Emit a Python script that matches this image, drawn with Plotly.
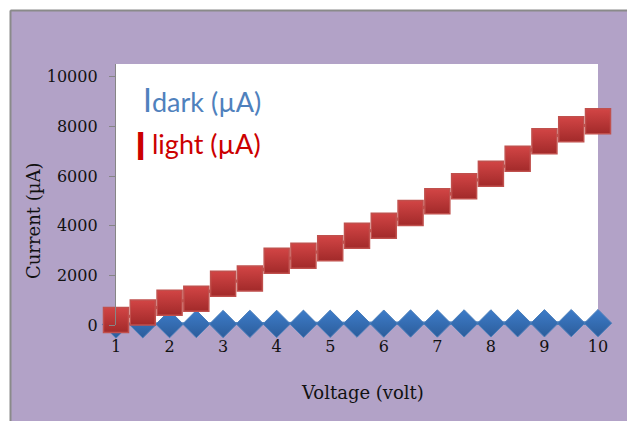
import plotly.graph_objects as go

voltage = [1, 1.5, 2, 2.5, 3, 3.5, 4, 4.5, 5, 5.5, 6, 6.5, 7, 7.5, 8, 8.5, 9, 9.5, 10]
i_dark = [20, 30, 35, 40, 40, 45, 45, 50, 50, 55, 55, 60, 60, 65, 65, 70, 70, 75, 75]
i_light = [200, 500, 900, 1060, 1660, 1870, 2590, 2790, 3090, 3590, 4000, 4510,
           4980, 5590, 6090, 6690, 7400, 7880, 8200]
x_ticks = [1, 2, 3, 4, 5, 6, 7, 8, 9, 10]
y_ticks = [0, 2000, 4000, 6000, 8000, 10000]
y_tick_text = ["0", "2000", "4000", "6000", "8000", "10000"]

W, H = 627, 421
L, R, T, B = 116, 598, 64, 325  # plot area in screen pixels


def px(x):  # screen x -> paper
    return (x - L) / (R - L)


def py(y):  # screen y -> paper
    return (B - y) / (B - T)


fig = go.Figure()
fig.add_trace(go.Scatter(
    x=voltage, y=i_dark, mode="lines+markers", cliponaxis=False,
    line=dict(color="#4A7EBB", width=4),
    marker=dict(symbol="diamond", size=21, color="#3D7CC9",
                gradient=dict(type="vertical", color="#2C5D9B"),
                line=dict(color="#4A7EBB", width=1)),
    showlegend=False))
fig.add_trace(go.Scatter(
    x=voltage, y=i_light, mode="lines+markers", cliponaxis=False,
    line=dict(color="#C0504D", width=3),
    marker=dict(symbol="square", size=25, color="#D24545",
                gradient=dict(type="vertical", color="#A22A2A"),
                line=dict(color="#C0504D", width=1.5)),
    showlegend=False))

serif = "DejaVu Serif"
fig.update_layout(
    width=W, height=H,
    margin=dict(l=L, r=W - R, t=T, b=H - B),
    paper_bgcolor="#B2A2C7", plot_bgcolor="white",
    xaxis=dict(range=[1, 10], tickvals=x_ticks, showgrid=False, zeroline=False,
               showline=False, ticks="", ticklabelstandoff=10,
               tickfont=dict(family=serif, size=16, color="#111111")),
    yaxis=dict(range=[0, 10510], tickvals=y_ticks, ticktext=y_tick_text,
               showgrid=False, zeroline=False,
               showline=True, linecolor="#868686", linewidth=1.3,
               ticks="outside", ticklen=6, tickcolor="#868686", tickwidth=1.3,
               ticklabelstandoff=8,
               tickfont=dict(family=serif, size=16, color="#111111")),
    shapes=[
        dict(type="rect", xref="paper", yref="paper", x0=px(-20), x1=px(10),
             y0=py(440), y1=py(-20), fillcolor="white", line=dict(width=0), layer="below"),
        dict(type="rect", xref="paper", yref="paper", x0=px(-20), x1=px(640),
             y0=py(10), y1=py(-20), fillcolor="white", line=dict(width=0), layer="below"),
        dict(type="line", xref="paper", yref="paper", x0=px(10.5), x1=px(10.5),
             y0=py(10.5), y1=py(440), line=dict(color="#8A8A8A", width=2)),
        dict(type="line", xref="paper", yref="paper", x0=px(10.5), x1=px(640),
             y0=py(10.5), y1=py(10.5), line=dict(color="#8A8A8A", width=2)),
    ],
    annotations=[
        dict(text="Voltage (volt)", xref="paper", yref="paper", x=px(362), y=py(392),
             xanchor="center", yanchor="middle", showarrow=False,
             font=dict(family=serif, size=18, color="#111111")),
        dict(text="Current (µA)", xref="paper", yref="paper", x=px(33.5), y=py(220.5),
             xanchor="center", yanchor="middle", showarrow=False, textangle=-90,
             font=dict(family=serif, size=18, color="#111111")),
        dict(text="<span style='font-size:32px'>I</span>dark (µA)", xref="paper", yref="paper",
             x=px(141), y=py(99), xanchor="left", yanchor="middle", showarrow=False,
             font=dict(family="Lato", size=27, color="#4F81BD")),
        dict(text="<b>I</b>", xref="paper", yref="paper",
             x=px(133), y=py(145), xanchor="left", yanchor="middle", showarrow=False,
             font=dict(family="Lato", size=38, color="#CC0000")),
        dict(text="light (µA)", xref="paper", yref="paper",
             x=px(150), y=py(143), xanchor="left", yanchor="middle", showarrow=False,
             font=dict(family="Lato", size=27, color="#CC0000")),
    ],
)

fig.write_html(
    "out.html",
    config={"displayModeBar": False},
    post_script="document.body.style.margin='0';"
                "document.documentElement.style.overflow='hidden';"
                "document.body.style.overflow='hidden';",
)
